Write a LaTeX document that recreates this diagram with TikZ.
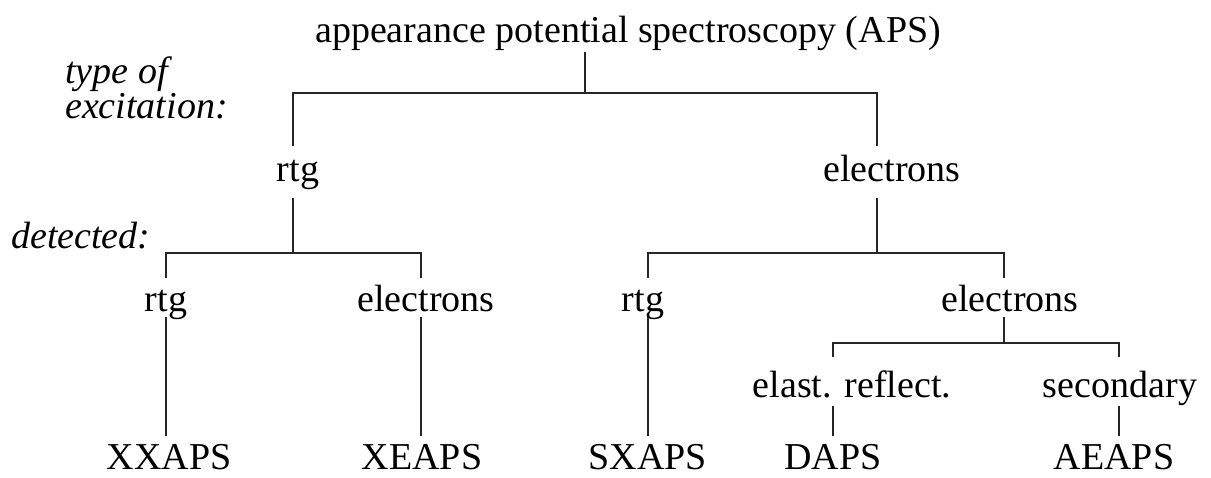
\documentclass[tikz,border=0pt]{standalone}
\usepackage{fontspec}
\setmainfont{Liberation Serif}
\begin{document}
\begin{tikzpicture}[x=1pt,y=-1pt,
  lbl/.style={anchor=base,inner sep=0pt,font=\fontsize{38}{44}\selectfont},
  rootlbl/.style={anchor=base west,inner sep=0pt,font=\fontsize{38}{44}\selectfont},
  cat/.style={anchor=base west,inner sep=0pt,font=\fontsize{38}{44}\selectfont\itshape},
  conn/.style={line width=1.1pt,draw=black!85}]
\useasboundingbox (0,0) rectangle (1211,477);
% texts
\node[rootlbl] (root) at (315,42) {appearance potential spectroscopy (APS)};
\node[cat] (type) at (65,83) {type of};
\node[cat] (exc) at (65,118) {excitation:};
\node[cat] (det) at (11,248) {detected:};
\node[lbl] (x) at (298,181) {rtg};
\node[lbl] (e) at (892,181) {electrons};
\node[lbl] (xx) at (166,311) {rtg};
\node[lbl] (xe) at (426,311) {electrons};
\node[lbl] (ex) at (643,311) {rtg};
\node[lbl] (ee) at (1010,311) {electrons};
\node[lbl] (eel) at (852,397) {elast. reflect.};
\node[lbl] (esec) at (1120,397) {secondary};
\node[lbl] (XXAPS) at (169,469) {XXAPS};
\node[lbl] (XEAPS) at (422,469) {XEAPS};
\node[lbl] (SXAPS) at (648,469) {SXAPS};
\node[lbl] (DAPS) at (833,469) {DAPS};
\node[lbl] (AEAPS) at (1114,469) {AEAPS};
% connector end points
\coordinate (r0) at (585,52);
\coordinate (r1) at (585,93);
\coordinate (xt) at (293,146);
\coordinate (xb) at (293,198);
\coordinate (et) at (877,146);
\coordinate (eb) at (877,198);
\coordinate (xxt) at (166,278);
\coordinate (xxb) at (166,317);
\coordinate (xet) at (421,278);
\coordinate (xeb) at (421,317);
\coordinate (ext) at (648,278);
\coordinate (exb) at (648,317);
\coordinate (eet) at (1004,278);
\coordinate (eeb) at (1004,317);
\coordinate (eelt) at (833,357);
\coordinate (eelb) at (833,406);
\coordinate (esect) at (1119,357);
\coordinate (esecb) at (1119,406);
\coordinate (XXt) at (166,436);
\coordinate (XEt) at (421,436);
\coordinate (SXt) at (648,436);
\coordinate (Dt) at (833,436);
\coordinate (AEt) at (1119,436);
% connectors
\draw[conn] (r0) -- (r1);
\draw[conn] (xt) |- (r1) -| (et);
\draw[conn] (xb) -- (xb |- 0,253);
\draw[conn] (xxt) |- (xb |- 0,253) -| (xet);
\draw[conn] (eb) -- (eb |- 0,253);
\draw[conn] (ext) |- (eb |- 0,253) -| (eet);
\draw[conn] (eeb) -- (eeb |- 0,343);
\draw[conn] (eelt) |- (eeb |- 0,343) -| (esect);
\draw[conn] (xxb) -- (XXt);
\draw[conn] (xeb) -- (XEt);
\draw[conn] (exb) -- (SXt);
\draw[conn] (eelb) -- (Dt);
\draw[conn] (esecb) -- (AEt);
\end{tikzpicture}
\end{document}
